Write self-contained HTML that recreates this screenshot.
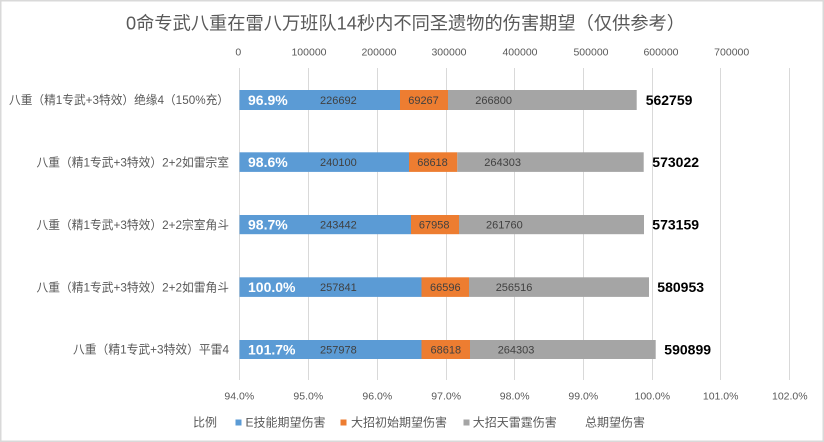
<!DOCTYPE html>
<html>
<head>
<meta charset="utf-8">
<style>
html,body{margin:0;padding:0;background:#fff;}
svg{display:block;}
text{font-family:"Liberation Sans","Noto Sans CJK SC",sans-serif;}
</style>
</head>
<body>
<svg width="824" height="442" viewBox="0 0 824 442" xmlns="http://www.w3.org/2000/svg">
<rect x="0" y="0" width="824" height="442" fill="#fff"/>
<!-- border -->
<rect x="0.75" y="0.75" width="822.5" height="440.5" fill="none" stroke="#d9d9d9" stroke-width="1.5"/>

<!-- title -->
<text x="126" y="23" dy="0.35em" font-size="18" fill="#595959" textLength="559" lengthAdjust="spacingAndGlyphs">0命专武八重在雷八万班队14秒内不同圣遗物的伤害期望（仅供参考）</text>

<!-- top axis labels -->
<g font-size="10.5" fill="#595959" text-anchor="middle">
<text x="238.3" y="52" dy="0.35em">0</text>
<text x="309" y="52" dy="0.35em">100000</text>
<text x="379" y="52" dy="0.35em">200000</text>
<text x="449" y="52" dy="0.35em">300000</text>
<text x="520" y="52" dy="0.35em">400000</text>
<text x="591" y="52" dy="0.35em">500000</text>
<text x="661" y="52" dy="0.35em">600000</text>
<text x="731.7" y="52" dy="0.35em">700000</text>
</g>

<!-- gridlines -->
<g stroke="#d9d9d9" stroke-width="1">
<line x1="239.5" y1="68" x2="239.5" y2="380"/>
<line x1="308.5" y1="68" x2="308.5" y2="380"/>
<line x1="377.5" y1="68" x2="377.5" y2="380"/>
<line x1="446.5" y1="68" x2="446.5" y2="380"/>
<line x1="514.5" y1="68" x2="514.5" y2="380"/>
<line x1="583.5" y1="68" x2="583.5" y2="380"/>
<line x1="652.5" y1="68" x2="652.5" y2="380"/>
<line x1="720.5" y1="68" x2="720.5" y2="380"/>
<line x1="789.5" y1="68" x2="789.5" y2="380"/>
</g>

<!-- bottom axis labels -->
<g font-size="10.5" fill="#595959" text-anchor="middle">
<text x="239.3" y="395.7" dy="0.35em">94.0%</text>
<text x="308.3" y="395.7" dy="0.35em">95.0%</text>
<text x="377.3" y="395.7" dy="0.35em">96.0%</text>
<text x="446.2" y="395.7" dy="0.35em">97.0%</text>
<text x="514.7" y="395.7" dy="0.35em">98.0%</text>
<text x="583.3" y="395.7" dy="0.35em">99.0%</text>
<text x="652.3" y="395.7" dy="0.35em">100.0%</text>
<text x="720.7" y="395.7" dy="0.35em">101.0%</text>
<text x="789.8" y="395.7" dy="0.35em">102.0%</text>
</g>

<!-- category labels -->
<g font-size="12" fill="#595959">
<text x="9" y="100" dy="0.35em" textLength="220" lengthAdjust="spacingAndGlyphs">八重（精1专武+3特效）绝缘4（150%充）</text>
<text x="36.5" y="162.2" dy="0.35em" textLength="192.5" lengthAdjust="spacingAndGlyphs">八重（精1专武+3特效）2+2如雷宗室</text>
<text x="36.5" y="224.7" dy="0.35em" textLength="192.5" lengthAdjust="spacingAndGlyphs">八重（精1专武+3特效）2+2宗室角斗</text>
<text x="36.5" y="287.2" dy="0.35em" textLength="192.5" lengthAdjust="spacingAndGlyphs">八重（精1专武+3特效）2+2如雷角斗</text>
<text x="73" y="349.5" dy="0.35em" textLength="156" lengthAdjust="spacingAndGlyphs">八重（精1专武+3特效）平雷4</text>
</g>

<!-- bars -->
<g>
<rect x="239.5" y="90" width="160.5" height="20" fill="#5b9bd5"/>
<rect x="400" y="90" width="48" height="20" fill="#ed7d31"/>
<rect x="448" y="90" width="188.7" height="20" fill="#a5a5a5"/>
<rect x="239.5" y="152.3" width="169.5" height="19.6" fill="#5b9bd5"/>
<rect x="409" y="152.3" width="48.3" height="19.6" fill="#ed7d31"/>
<rect x="457.3" y="152.3" width="186.4" height="19.6" fill="#a5a5a5"/>
<rect x="239.5" y="215" width="171.5" height="19.2" fill="#5b9bd5"/>
<rect x="411" y="215" width="48" height="19.2" fill="#ed7d31"/>
<rect x="459" y="215" width="185" height="19.2" fill="#a5a5a5"/>
<rect x="239.5" y="277.3" width="182" height="19.6" fill="#5b9bd5"/>
<rect x="421.5" y="277.3" width="47.5" height="19.6" fill="#ed7d31"/>
<rect x="469" y="277.3" width="180" height="19.6" fill="#a5a5a5"/>
<rect x="239.5" y="340" width="182" height="19" fill="#5b9bd5"/>
<rect x="421.5" y="340" width="48.5" height="19" fill="#ed7d31"/>
<rect x="470" y="340" width="185.7" height="19" fill="#a5a5a5"/>
</g>

<!-- percent labels -->
<g font-size="14" font-weight="bold" fill="#ffffff">
<text x="248" y="100" dy="0.35em">96.9%</text>
<text x="248" y="162.2" dy="0.35em">98.6%</text>
<text x="248" y="224.7" dy="0.35em">98.7%</text>
<text x="248" y="287.2" dy="0.35em">100.0%</text>
<text x="248" y="349.5" dy="0.35em">101.7%</text>
</g>

<!-- blue labels -->
<g font-size="11" fill="#404040">
<text x="320" y="100" dy="0.35em">226692</text>
<text x="320" y="162.2" dy="0.35em">240100</text>
<text x="320" y="224.7" dy="0.35em">243442</text>
<text x="320" y="287.2" dy="0.35em">257841</text>
<text x="320" y="349.5" dy="0.35em">257978</text>
</g>
<!-- orange labels -->
<g font-size="11" fill="#404040" text-anchor="middle">
<text x="423.5" y="100" dy="0.35em">69267</text>
<text x="432.5" y="162.2" dy="0.35em">68618</text>
<text x="434.2" y="224.7" dy="0.35em">67958</text>
<text x="445.3" y="287.2" dy="0.35em">66596</text>
<text x="445.8" y="349.5" dy="0.35em">68618</text>
</g>
<!-- gray labels -->
<g font-size="11" fill="#404040">
<text x="475.3" y="100" dy="0.35em">266800</text>
<text x="484.3" y="162.2" dy="0.35em">264303</text>
<text x="486" y="224.7" dy="0.35em">261760</text>
<text x="495.7" y="287.2" dy="0.35em">256516</text>
<text x="497.7" y="349.5" dy="0.35em">264303</text>
</g>
<!-- totals -->
<g font-size="14" font-weight="bold" fill="#000000">
<text x="645.7" y="100" dy="0.35em">562759</text>
<text x="652.3" y="162.2" dy="0.35em">573022</text>
<text x="652.3" y="224.7" dy="0.35em">573159</text>
<text x="657.3" y="287.2" dy="0.35em">580953</text>
<text x="664.3" y="349.5" dy="0.35em">590899</text>
</g>

<!-- legend -->
<g font-size="12" fill="#595959">
<text x="193" y="422.5" dy="0.35em">比例</text>
<rect x="235.5" y="419.5" width="6" height="6" fill="#5b9bd5"/>
<text x="245.5" y="422.5" dy="0.35em">E技能期望伤害</text>
<rect x="340.5" y="419.5" width="6" height="6" fill="#ed7d31"/>
<text x="351" y="422.5" dy="0.35em">大招初始期望伤害</text>
<rect x="463.5" y="419.5" width="6" height="6" fill="#a5a5a5"/>
<text x="472.7" y="422.5" dy="0.35em">大招天雷霆伤害</text>
<text x="585" y="422.5" dy="0.35em">总期望伤害</text>
</g>
</svg>
</body>
</html>
